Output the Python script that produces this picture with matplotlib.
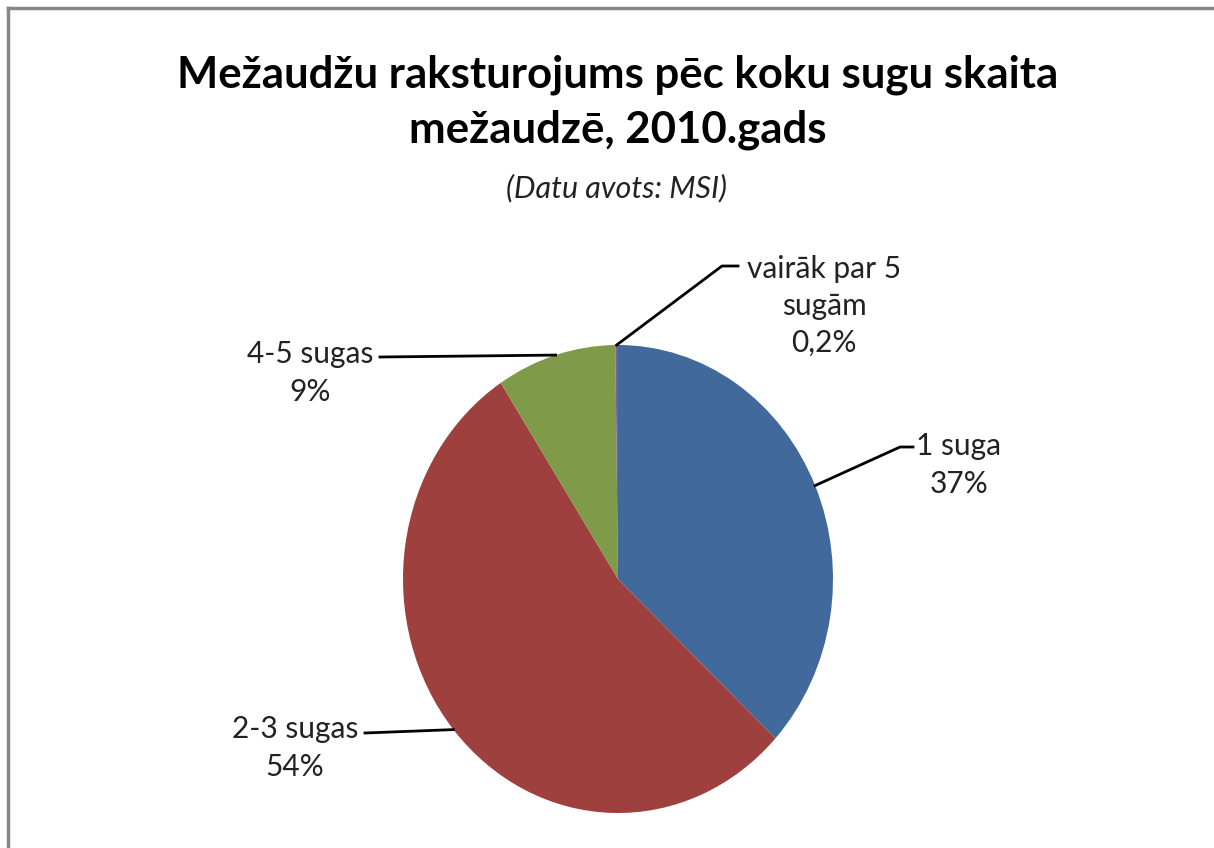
import numpy as np
import matplotlib.pyplot as plt
from matplotlib.lines import Line2D

plt.rcParams['font.family'] = ['Lato', 'DejaVu Sans']

# dati
categories = ["1 suga", "2-3 sugas", "4-5 sugas", "vairāk par 5\nsugām"]
values = [37, 54, 9, 0.2]
pct_labels = ["37%", "54%", "9%", "0,2%"]
colors = ["#41699B", "#9E413E", "#7F9A48", "#7A5F9C"]

W, H = 1214, 848
fig = plt.figure(figsize=(W / 100, H / 100), dpi=100)

# ramis (tikai augša un kreisā puse redzama)
fig.add_artist(Line2D([8 / W, 8 / W], [0, 1 - 8 / H], color="#878787", lw=2.5))
fig.add_artist(Line2D([8 / W, 1], [1 - 8 / H, 1 - 8 / H], color="#878787", lw=2.5))

fig.text(618 / W, 1 - 102 / H, "Mežaudžu raksturojums pēc koku sugu skaita\nmežaudzē, 2010.gads",
         ha="center", va="center", fontsize=31.5, fontweight="bold", linespacing=1.45)
fig.text(616 / W, 1 - 188 / H, "(Datu avots: MSI)", ha="center", va="center",
         fontsize=22, style="italic", color="#222222")

# pie centrs (618,579), rx 215, ry 234
cx, cy, rx, ry = 618, 579, 215, 234
ax = fig.add_axes([(cx - rx) / W, (H - cy - ry) / H, 2 * rx / W, 2 * ry / H])
wedges, _ = ax.pie(values, colors=colors, startangle=90, counterclock=False,
                   wedgeprops=dict(linewidth=0))
ax.set_aspect("auto")
ax.set_xlim(-1, 1)
ax.set_ylim(-1, 1)

# etiķešu novietojums (pikseļos) un līniju lūzuma punkti
label_pos = [(959, 465), (295, 748), (310, 373), (824, 306)]
elbows = [[(900, 447), (913, 447)], [(365, 733)], [(380, 357)], [(722, 266), (738, 266)]]

to_fig = fig.transFigure.inverted()
for w, cat, pct, (lx, ly), el in zip(wedges, categories, pct_labels, label_pos, elbows):
    ang = np.deg2rad((w.theta1 + w.theta2) / 2)
    px, py = ax.transData.transform((np.cos(ang), np.sin(ang)))
    pts = [(px, py)] + [(x, H - y) for x, y in el]
    fpts = to_fig.transform(pts)
    fig.add_artist(Line2D(fpts[:, 0], fpts[:, 1], color="black", lw=2))
    fig.text(lx / W, 1 - ly / H, cat + "\n" + pct, ha="center", va="center",
             fontsize=21.5, color="#222222", linespacing=1.4)

fig.savefig("out.png", dpi=100)
